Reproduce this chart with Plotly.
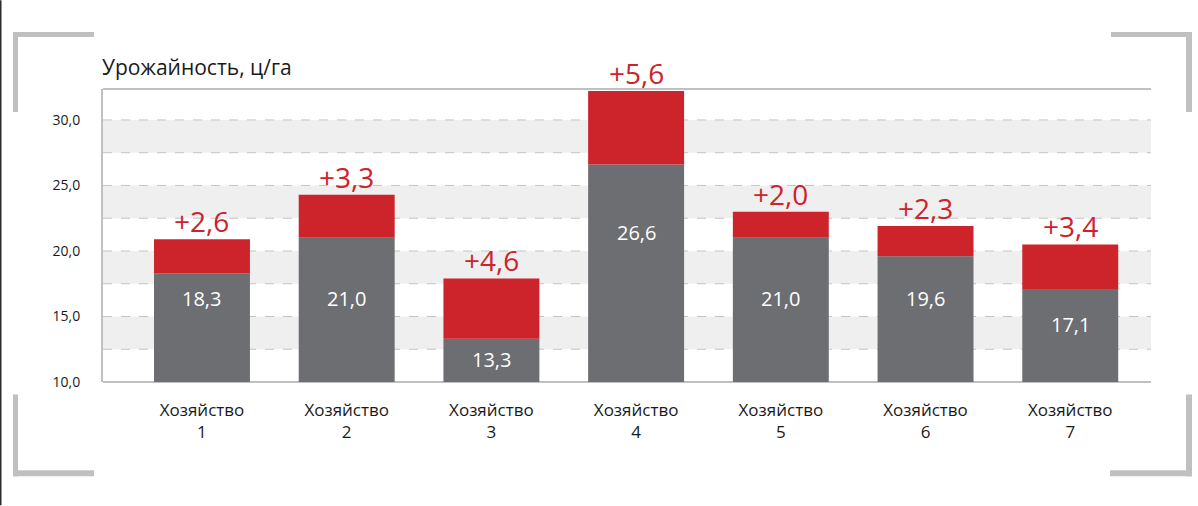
import plotly.graph_objects as go
import numpy as np

# ---- data ----
categories = ["Хозяйство<br>1", "Хозяйство<br>2", "Хозяйство<br>3", "Хозяйство<br>4",
              "Хозяйство<br>5", "Хозяйство<br>6", "Хозяйство<br>7"]
base_values = [18.3, 21.0, 13.3, 26.6, 21.0, 19.6, 17.1]
increase_values = [2.6, 3.3, 4.6, 5.6, 2.0, 2.3, 3.4]
y_tick_values = [10, 15, 20, 25, 30]
y_tick_labels = ["10,0", "15,0", "20,0", "25,0", "30,0"]
title_text = "Урожайность, ц/га"

# ---- layout constants ----
W, H = 1198, 506
L, R, T, B = 103, 1151, 89, 382.5
Y0, Y1 = 10, 10 + (B - T) / 13.125
value_label_y = [16.4, 16.4, 11.7, 21.4, 16.4, 16.4, 14.4]

GRAY = "#6d6e71"
RED = "#cd232b"
FONT = "Open Sans"

x = list(range(len(categories)))


def fmt(v):
    return f"{v:.1f}".replace(".", ",")


fig = go.Figure()
fig.add_trace(go.Bar(x=x, y=[b - Y0 for b in base_values], base=Y0, width=0.663,
                     marker=dict(color=GRAY, line=dict(width=0)), hoverinfo="skip"))
fig.add_trace(go.Bar(x=x, y=increase_values, base=base_values, width=0.663,
                     marker=dict(color=RED, line=dict(width=0)), hoverinfo="skip"))

shapes = []
# alternating bands
for lo in np.arange(12.5, 30, 5.0):
    shapes.append(dict(type="rect", xref="paper", yref="y", x0=0, x1=1, y0=lo, y1=lo + 2.5,
                       fillcolor="#efefef", line=dict(width=0), layer="below"))
# dashed grid
for g in np.arange(12.5, 30.01, 2.5):
    shapes.append(dict(type="line", xref="paper", yref="y", x0=0, x1=1, y0=g, y1=g,
                       line=dict(color="#c4c4c4", width=1, dash="dash"), layer="below"))
# top frame line
shapes.append(dict(type="line", xref="paper", yref="paper", x0=0, x1=1, y0=1, y1=1,
                   line=dict(color="#c0c0c0", width=2), layer="below"))
# bottom axis line
shapes.append(dict(type="line", xref="paper", yref="paper", x0=0, x1=1, y0=0, y1=0,
                   line=dict(color="#c0c0c0", width=2), layer="below"))


def px_x(p):
    return (p - L) / (R - L)


def px_y(p):
    return (B - p) / (B - T)


BR = "#c0c0c0"


def rect(x0, y0, x1, y1, color=BR):
    shapes.append(dict(type="rect", xref="paper", yref="paper",
                       x0=px_x(x0), x1=px_x(x1), y0=px_y(y1), y1=px_y(y0),
                       fillcolor=color, line=dict(width=0), layer="above"))


# corner brackets
rect(13, 32, 94, 37); rect(13, 32, 18, 112)
rect(13, 471, 94, 477); rect(13, 395, 18, 477)
rect(1111, 32, 1192, 37); rect(1186, 32, 1192, 112)
rect(1110, 471, 1192, 477); rect(1186, 395, 1192, 477)
# left edge dark line
rect(0, 0, 1.5, 506, "#2b2b2b")

annotations = []
for i, (b, inc) in enumerate(zip(base_values, increase_values)):
    annotations.append(dict(x=i, y=b + inc, xref="x", yref="y", text="+" + fmt(inc),
                            showarrow=False, yanchor="bottom", yshift=-3,
                            font=dict(family=FONT, size=28, color=RED)))
    annotations.append(dict(x=i, y=value_label_y[i], xref="x", yref="y", text=fmt(b),
                            showarrow=False, yanchor="middle",
                            font=dict(family=FONT, size=20, color="white")))
annotations.append(dict(x=0, y=px_y(67), xref="paper", yref="paper", text=title_text,
                        showarrow=False, xanchor="left", yanchor="middle", xshift=-3,
                        font=dict(family=FONT, size=21, color="#1a1a1a")))

fig.update_layout(
    width=W, height=H,
    margin=dict(l=L, r=W - R, t=T, b=H - B, pad=0),
    paper_bgcolor="white", plot_bgcolor="rgba(0,0,0,0)",
    barmode="overlay", showlegend=False,
    shapes=shapes, annotations=annotations,
    font=dict(family=FONT, color="#1a1a1a"),
    xaxis=dict(range=[-0.684, 6.558], tickvals=x, ticktext=categories,
               showgrid=False, zeroline=False, showline=False, ticks="",
               tickfont=dict(family=FONT, size=17, color="#1a1a1a"),
               ticklabelstandoff=16, fixedrange=True),
    yaxis=dict(range=[Y0, Y1], tickvals=y_tick_values, ticktext=y_tick_labels,
               showgrid=False, zeroline=False, showline=True, linecolor="#c0c0c0",
               linewidth=2, ticks="", ticklabelstandoff=18,
               tickfont=dict(family=FONT, size=14, color="#1a1a1a"), fixedrange=True),
)

fig.write_html("out.html", config={"displayModeBar": False},
               post_script="document.body.style.margin='0';document.body.style.overflow='hidden';")
